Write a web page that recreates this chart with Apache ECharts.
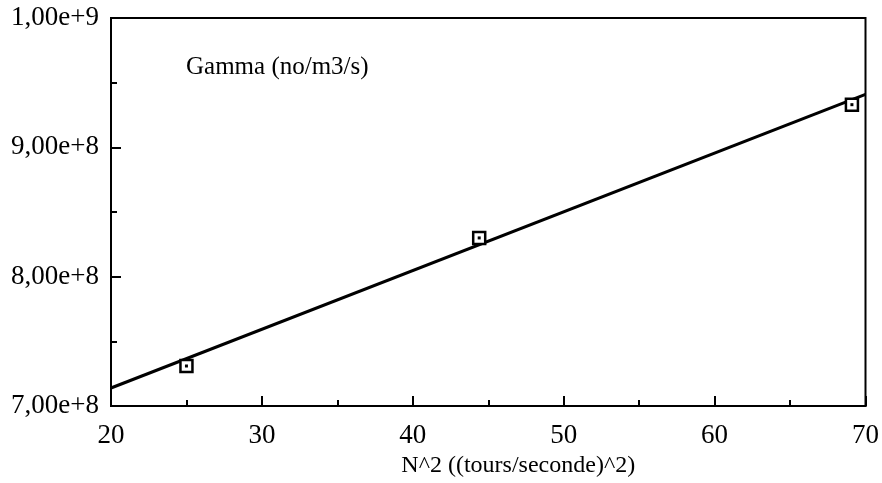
<!DOCTYPE html>
<html>
<head>
<meta charset="utf-8">
<script src="https://cdn.jsdelivr.net/npm/echarts@6/dist/echarts.min.js"></script>
<style>html,body{margin:0;padding:0;background:#fff}#c{width:882px;height:483px}</style>
</head>
<body>
<div id="c"></div>
<script>
const pointX = [25, 44.4, 69.1];
const pointY = [7.31e8, 8.30e8, 9.33e8];
const fitX = [20, 70];
const fitY = [7.14e8, 9.41e8];
const yTicks = [7e8, 8e8, 9e8, 1e9];
const yTickLabels = ['7,00e+8', '8,00e+8', '9,00e+8', '1,00e+9'];
const xTicks = [20, 30, 40, 50, 60, 70];
const xTickLabels = ['20', '30', '40', '50', '60', '70'];
const titleText = 'Gamma (no/m3/s)';
const xName = 'N^2 ((tours/seconde)^2)';

const font = 'Liberation Serif';
const chart = echarts.init(document.getElementById('c'));
const pts = pointX.map((x, i) => [x, pointY[i]]);
const fit = fitX.map((x, i) => [x, fitY[i]]);
chart.setOption({
  animation: false,
  title: {text: titleText, left: 181, top: 50, textStyle: {fontFamily: font, fontSize: 25, fontWeight: 'normal', color: '#000'}},
  grid: {left: 111, right: 16, top: 18, bottom: 74, show: true, borderColor: '#000', borderWidth: 2, backgroundColor: 'transparent'},
  xAxis: {
    type: 'value', min: 20, max: 70, interval: 10,
    name: xName, nameLocation: 'middle', nameGap: 40,
    nameTextStyle: {fontFamily: font, fontSize: 24, color: '#000', padding: [0, 0, 0, 60]},
    axisLine: {lineStyle: {color: '#000', width: 2}},
    axisTick: {inside: true, length: 10, lineStyle: {color: '#000', width: 2}},
    minorTick: {show: true, splitNumber: 2, length: 6, lineStyle: {color: '#000', width: 2}},
    splitLine: {show: false},
    axisLabel: {margin: 16, fontFamily: font, fontSize: 27, color: '#000',
      formatter: v => { const i = xTicks.indexOf(v); return i >= 0 ? xTickLabels[i] : ''; }}
  },
  yAxis: {
    type: 'value', min: 7e8, max: 1e9, interval: 1e8,
    axisLine: {lineStyle: {color: '#000', width: 2}},
    axisTick: {inside: true, length: 10, lineStyle: {color: '#000', width: 2}},
    minorTick: {show: true, splitNumber: 2, length: 6, lineStyle: {color: '#000', width: 2}},
    splitLine: {show: false},
    axisLabel: {margin: 12, fontFamily: font, fontSize: 27, color: '#000',
      formatter: v => { const i = yTicks.indexOf(v); return i >= 0 ? yTickLabels[i] : ''; }}
  },
  series: [
    {type: 'line', data: fit, showSymbol: false, symbol: 'none', lineStyle: {color: '#000', width: 3}, z: 2},
    {type: 'scatter', data: pts, symbol: 'rect', symbolSize: 12, itemStyle: {color: '#fff', borderColor: '#000', borderWidth: 2.5, opacity: 1}, z: 3},
    {type: 'scatter', data: pts, symbol: 'rect', symbolSize: 3, itemStyle: {color: '#000', opacity: 1}, z: 4}
  ]
});
</script>
</body>
</html>
